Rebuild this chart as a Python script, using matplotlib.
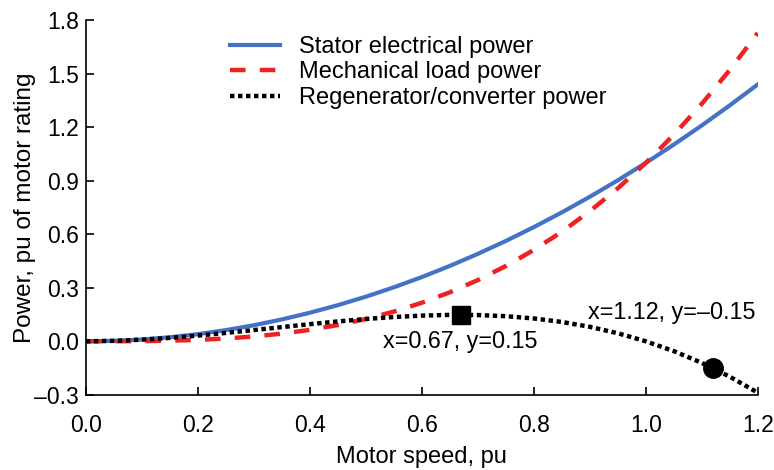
import matplotlib
matplotlib.use("Agg")
import matplotlib.pyplot as plt

# motor speed, pu
speed = [0.0, 0.05, 0.1, 0.15, 0.2, 0.25, 0.3, 0.35, 0.4, 0.45, 0.5, 0.55, 0.6,
         0.65, 0.7, 0.75, 0.8, 0.85, 0.9, 0.95, 1.0, 1.05, 1.1, 1.15, 1.2]
stator = [0.0, 0.0025, 0.01, 0.0225, 0.04, 0.0625, 0.09, 0.1225, 0.16, 0.2025,
          0.25, 0.3025, 0.36, 0.4225, 0.49, 0.5625, 0.64, 0.7225, 0.81, 0.9025,
          1.0, 1.1025, 1.21, 1.3225, 1.44]
mech = [0.0, 0.0001, 0.001, 0.0034, 0.008, 0.0156, 0.027, 0.0429, 0.064, 0.0911,
        0.125, 0.1664, 0.216, 0.2746, 0.343, 0.4219, 0.512, 0.6141, 0.729, 0.8574,
        1.0, 1.1576, 1.331, 1.5209, 1.728]
regen = [0.0, 0.0024, 0.009, 0.0191, 0.032, 0.0469, 0.063, 0.0796, 0.096, 0.1114,
         0.125, 0.1361, 0.144, 0.1479, 0.147, 0.1406, 0.128, 0.1084, 0.081, 0.0451,
         0.0, -0.0551, -0.121, -0.1984, -0.288]

max_pt = (0.67, 0.148)
min_pt = (1.12, -0.15)

xticks = [0.0, 0.2, 0.4, 0.6, 0.8, 1.0, 1.2]
yticks = [-0.3, 0.0, 0.3, 0.6, 0.9, 1.2, 1.5, 1.8]

plt.rcParams["font.family"] = ["Liberation Sans", "DejaVu Sans"]

fig = plt.figure(figsize=(7.74, 4.7), dpi=100)
ax = fig.add_axes([0.111, 0.160, 0.868, 0.797])

ax.plot(speed, stator, color="#4472C4", lw=3, label="Stator electrical power")
ax.plot(speed, mech, color="#EE2222", lw=3.2, dashes=(3.5, 3.2),
        label="Mechanical load power")
ax.plot(speed, regen, color="black", lw=3.2, dashes=(1, 0.8),
        label="Regenerator/converter power")

ax.plot(*max_pt, marker="s", ms=13, color="black")
ax.plot(*min_pt, marker="o", ms=14, color="black")
ax.text(0.53, 0.0, "x=0.67, y=0.15", fontsize=16.8, va="center", ha="left")
ax.text(0.896, 0.16, "x=1.12, y=\u20130.15", fontsize=16.8, va="center", ha="left")

ax.set_xlim(0, 1.2)
ax.set_ylim(-0.3, 1.8)
ax.set_xticks(xticks)
ax.set_xticklabels([f"{v:.1f}" for v in xticks])
ax.set_yticks(yticks)
ax.set_yticklabels([f"{v:.1f}".replace("-", "\u2013") for v in yticks])
ax.tick_params(direction="in", labelsize=16.5, length=6, width=1.2)
ax.tick_params(axis="x", pad=14)
ax.tick_params(axis="y", pad=5)
for s in ["top", "right"]:
    ax.spines[s].set_visible(False)
for s in ["left", "bottom"]:
    ax.spines[s].set_linewidth(1.2)

ax.set_xlabel("Motor speed, pu", fontsize=17, labelpad=6)
ax.set_ylabel("Power, pu of motor rating", fontsize=17.5, labelpad=-1)

ax.legend(loc="upper left", bbox_to_anchor=(0.183, 1.015), frameon=False,
          fontsize=17, handlelength=2.1, labelspacing=0.15, handletextpad=0.8)

fig.savefig("out.png", dpi=100)
